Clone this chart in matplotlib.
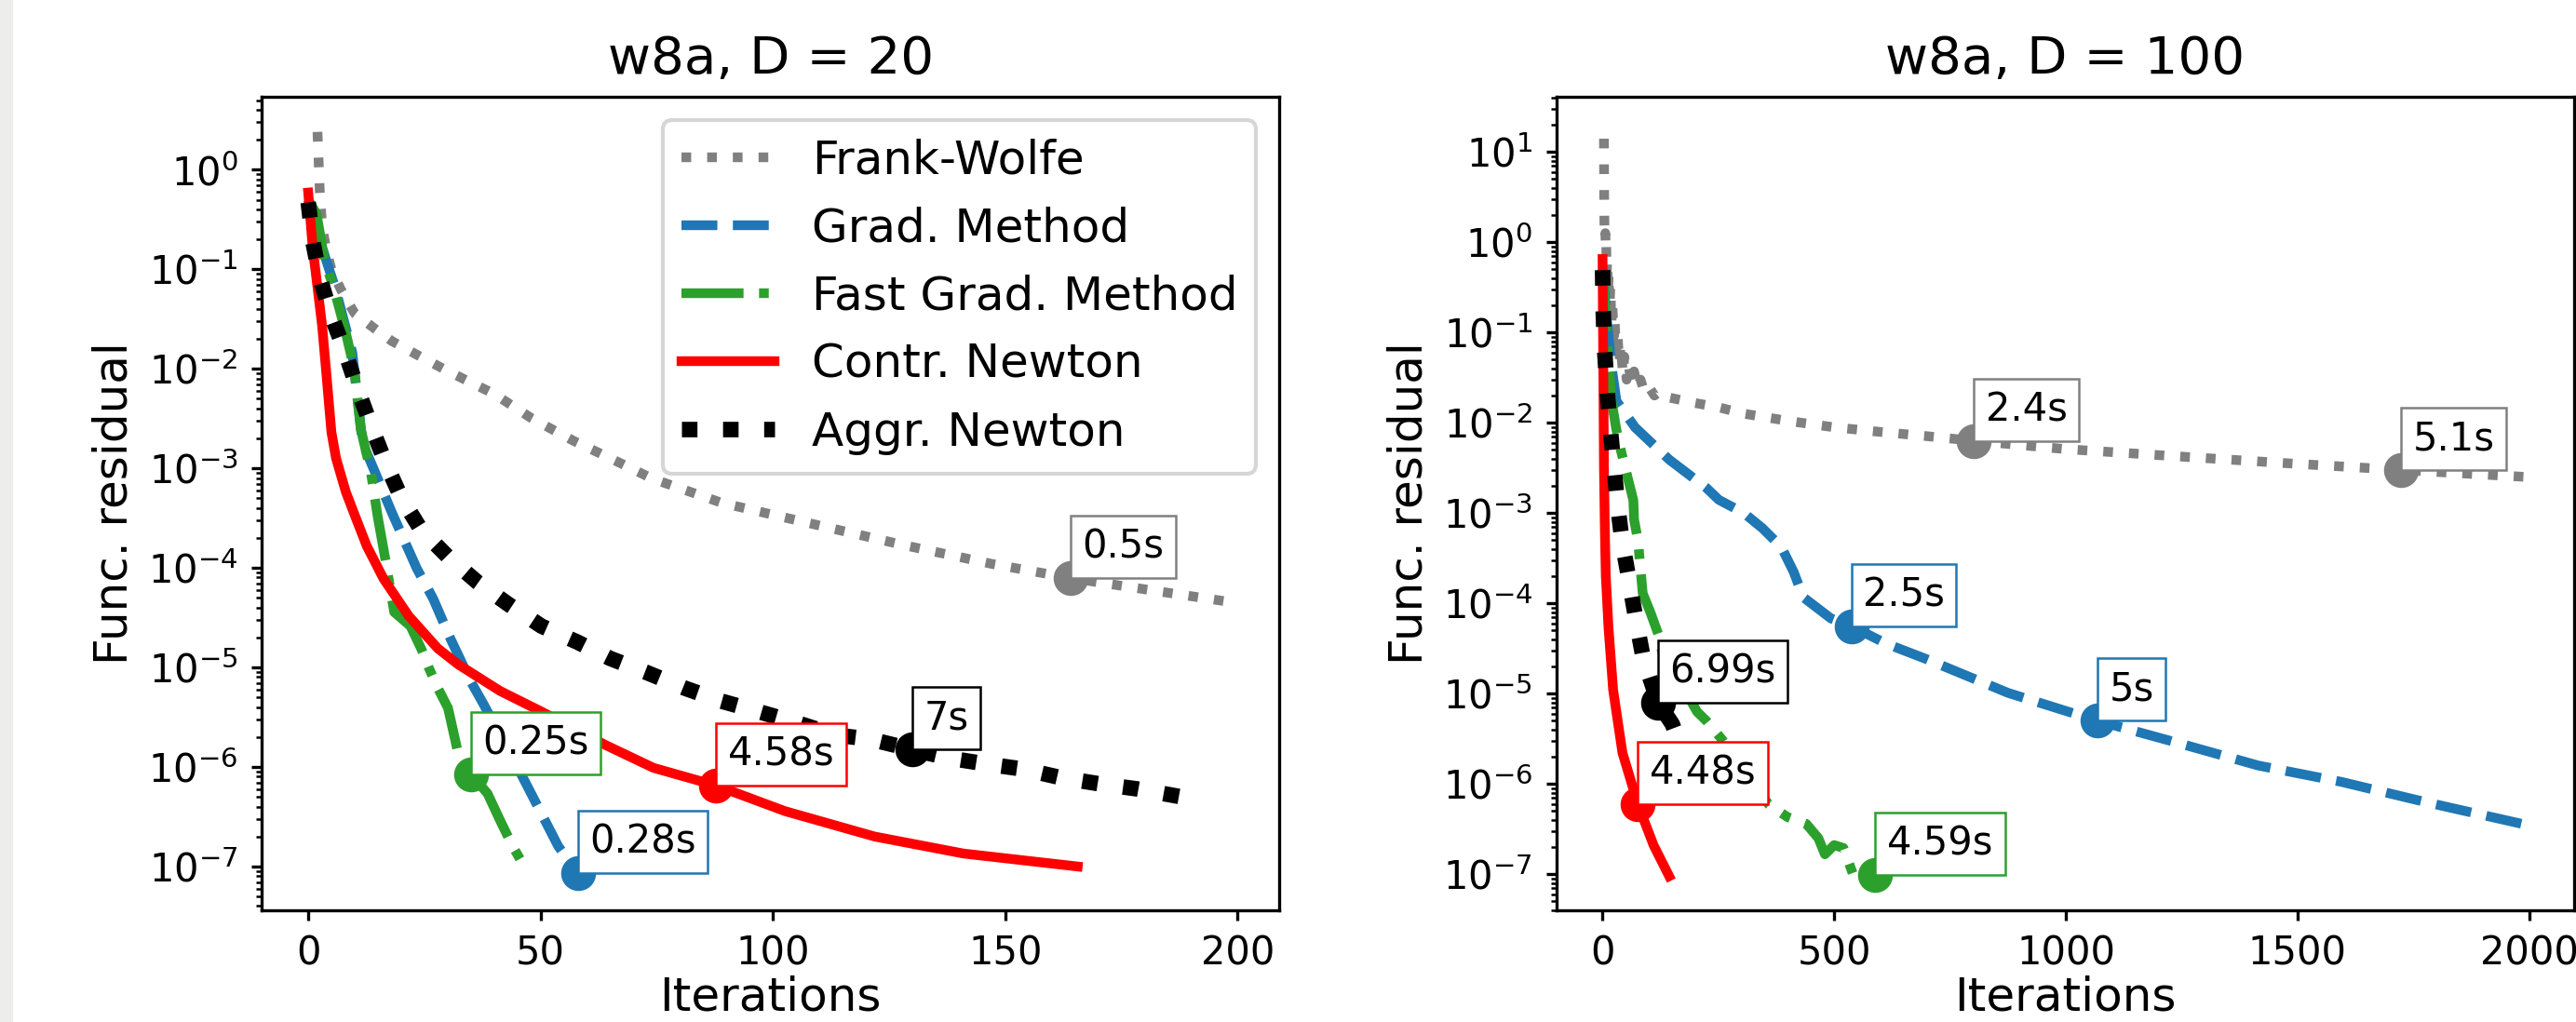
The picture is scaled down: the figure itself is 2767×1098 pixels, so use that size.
import numpy as np
import matplotlib.pyplot as plt
from matplotlib.patches import Rectangle

# ---------- w8a, D = 20 ----------
fw20_x = [2, 2.5, 3, 4, 5, 7, 10, 14, 18, 22, 30, 40, 48, 57, 66, 74, 89, 108, 128, 147, 164, 181, 199]
fw20_y = [2.4, 0.6, 0.27, 0.15, 0.10, 0.063, 0.036, 0.026, 0.019, 0.015, 0.0095, 0.0056, 0.0032,
          0.0019, 0.0012, 7.9e-4, 4.5e-4, 2.8e-4, 1.7e-4, 1.1e-4, 7.9e-5, 6.0e-5, 4.5e-5]

gm20_x = [0, 3.6, 5.9, 9.5, 11.7, 14.4, 18, 23.4, 26.9, 30.6, 35, 37.7, 45.8, 50.2, 53.8, 58]
gm20_y = [0.5, 0.135, 0.063, 0.0145, 0.0018, 9.1e-4, 3.6e-4, 9.8e-5, 4.9e-5, 1.95e-5, 7.2e-6,
          4.3e-6, 8.5e-7, 3.4e-7, 1.6e-7, 8.5e-8]

fgm20_x = [0, 1.8, 3.6, 5.4, 8.1, 9.9, 11.3, 13.5, 14.9, 16.7, 18.5, 22, 24.3, 26, 27.9, 30.1,
           32.3, 35, 38.6, 41.3, 44, 46.5]
fgm20_y = [0.5, 0.36, 0.117, 0.068, 0.023, 0.010, 0.0025, 9.1e-4, 3.4e-4, 1.15e-4, 3.6e-5, 2.6e-5,
           1.55e-5, 9.8e-6, 6.2e-6, 3.9e-6, 1.35e-6, 8.5e-7, 5.4e-7, 2.9e-7, 1.6e-7, 1.0e-7]

cn20_x = [0, 1, 2, 3, 4, 5, 6, 8.1, 9.9, 12.6, 16.2, 21.6, 27.9, 32.3, 41.3, 50.2, 64, 74.3,
          87.8, 102.6, 121.9, 141, 165.6]
cn20_y = [0.59, 0.16, 0.066, 0.027, 0.008, 0.0023, 0.00126, 5.8e-4, 3.5e-4, 1.66e-4, 7.8e-5,
          3.3e-5, 1.55e-5, 1.07e-5, 5.8e-6, 3.6e-6, 1.66e-6, 9.8e-7, 6.5e-7, 3.6e-7, 2.0e-7,
          1.35e-7, 1.0e-7]

an20_x = [0, 1, 2.6, 5, 8, 10.6, 13.5, 16.6, 20, 24.2, 30.1, 36.4, 43.1, 50.2, 57.9, 65, 72.8,
          81, 88.8, 96.9, 105, 113.3, 121, 130, 137.8, 146, 154, 162, 170, 178.6, 188]
an20_y = [0.47, 0.19, 0.079, 0.034, 0.0145, 0.0063, 0.0027, 0.00115, 5.1e-4, 2.45e-4, 1.29e-4,
          7.2e-5, 4.3e-5, 2.6e-5, 1.8e-5, 1.23e-5, 8.9e-6, 6.2e-6, 4.6e-6, 3.6e-6, 2.8e-6,
          2.1e-6, 1.9e-6, 1.5e-6, 1.23e-6, 1.07e-6, 9.5e-7, 7.8e-7, 6.8e-7, 6.0e-7, 5.0e-7]

# time labels: (iteration, residual, text, series index)
ann20_x = [164, 58, 35, 87.8, 130]
ann20_y = [7.9e-5, 8.5e-8, 8.5e-7, 6.5e-7, 1.5e-6]
ann20_txt = ['0.5s', '0.28s', '0.25s', '4.58s', '7s']
ann20_idx = [0, 1, 2, 3, 4]

# ---------- w8a, D = 100 ----------
fw100_x = [3, 3.5, 4, 5, 6, 7, 8, 9, 10, 12, 13, 15, 17, 19, 21, 24, 26, 29, 32, 36, 39, 44, 47,
           52, 56, 62, 68, 75, 82, 90, 100, 112, 122, 144, 198, 251, 305, 399, 500, 601, 700,
           802, 1000, 1255, 1500, 1724, 1999]
fw100_y = [14, 3.2, 1.6, 1.1, 1.26, 0.79, 0.89, 0.45, 0.63, 0.28, 0.45, 0.20, 0.32, 0.126, 0.22,
           0.089, 0.14, 0.063, 0.1, 0.047, 0.071, 0.035, 0.054, 0.030, 0.045, 0.027, 0.037,
           0.024, 0.030, 0.022, 0.025, 0.020, 0.022, 0.019, 0.0166, 0.0148, 0.0126, 0.0105,
           0.0089, 0.0079, 0.0071, 0.0063, 0.0051, 0.0042, 0.0035, 0.0030, 0.0025]

gm100_x = [0, 10, 20, 30, 70, 144, 224, 251, 305, 345, 386, 413, 433, 493, 537, 611, 700, 875,
           1068, 1236, 1415, 1596, 1776, 1996]
gm100_y = [0.5, 0.126, 0.04, 0.0174, 0.0089, 0.0039, 0.0019, 0.0014, 0.0010, 6.8e-4, 4.2e-4,
           2.2e-4, 1.17e-4, 6.8e-5, 5.6e-5, 3.6e-5, 2.4e-5, 1.02e-5, 5.0e-6, 2.9e-6, 1.6e-6,
           1.05e-6, 6.3e-7, 3.5e-7]

fgm100_x = [0, 8, 19.5, 29.6, 39.7, 66.5, 68, 76.6, 86.7, 103.4, 120, 127, 204, 224, 258, 359,
            399, 440, 466, 480, 500, 520, 540, 589]
fgm100_y = [0.5, 0.1, 0.0174, 0.0085, 0.0049, 0.00138, 8.5e-4, 4.9e-4, 1.29e-4, 7.9e-5, 4.6e-5,
            3.1e-5, 6.3e-6, 5.0e-6, 3.1e-6, 5.9e-7, 4.3e-7, 3.6e-7, 2.5e-7, 1.66e-7, 2.1e-7,
            1.95e-7, 1.02e-7, 9.8e-8]

cn100_x = [0, 1, 2, 3, 5, 7, 12.8, 22.8, 43, 76.6, 110, 143.8]
cn100_y = [0.65, 0.1, 0.02, 3.2e-3, 6.3e-4, 2.0e-4, 5.4e-5, 1.1e-5, 2.2e-6, 5.9e-7, 2.1e-7, 9.5e-8]

an100_x = [0, 1.3, 4, 9.4, 16, 24, 32, 42, 56.5, 71, 87, 120, 150.5, 155]
an100_y = [0.49, 0.18, 0.069, 0.025, 0.0093, 0.0035, 0.0013, 4.9e-4, 1.9e-4, 7.1e-5, 2.6e-5,
           7.9e-6, 4.6e-6, 4.0e-6]

ann100_x = [802, 1724, 537, 1068, 589, 76.6, 120]
ann100_y = [6.3e-3, 3.0e-3, 5.6e-5, 5.0e-6, 9.8e-8, 5.9e-7, 7.9e-6]
ann100_txt = ['2.4s', '5.1s', '2.5s', '5s', '4.59s', '4.48s', '6.99s']
ann100_idx = [0, 0, 1, 1, 2, 3, 4]

names = ['Frank-Wolfe', 'Grad. Method', 'Fast Grad. Method', 'Contr. Newton', 'Aggr. Newton']
colors = ['gray', '#1f77b4', '#2ca02c', 'red', 'black']
styles = [':', '--', '-.', '-', ':']
widths = [2.5, 2.5, 2.5, 2.5, 4]

panels = [
    dict(title='w8a, D = 20',
         series=[(fw20_x, fw20_y), (gm20_x, gm20_y), (fgm20_x, fgm20_y), (cn20_x, cn20_y), (an20_x, an20_y)],
         ann=(ann20_x, ann20_y, ann20_txt, ann20_idx),
         xlim=(-10, 209), ylim=(10**-7.44, 10**0.733), xticks=[0, 50, 100, 150, 200]),
    dict(title='w8a, D = 100',
         series=[(fw100_x, fw100_y), (gm100_x, gm100_y), (fgm100_x, fgm100_y), (cn100_x, cn100_y), (an100_x, an100_y)],
         ann=(ann100_x, ann100_y, ann100_txt, ann100_idx),
         xlim=(-100, 2097), ylim=(10**-7.40, 10**1.61), xticks=[0, 500, 1000, 1500, 2000]),
]

fig, axes = plt.subplots(1, 2, figsize=(2767 / 300, 1098 / 300), dpi=300)
fig.subplots_adjust(left=0.1016, right=0.9992, bottom=0.1093, top=0.9053, wspace=0.272)
# light strip at the left edge of the screenshot
fig.patches.append(Rectangle((0, 0), 12 / 2767, 1, transform=fig.transFigure,
                             color='#ededeb', zorder=-1))

for ax, p in zip(axes, panels):
    for (xs, ys), name, c, ls, lw in zip(p['series'], names, colors, styles, widths):
        ax.plot(xs, ys, ls=ls, color=c, lw=lw, label=name)
    for x, y, t, i in zip(*p['ann']):
        ax.plot(x, y, 'o', color=colors[i], ms=8, zorder=4)
        ax.annotate(t, (x, y), xytext=(3, 3), textcoords='offset points',
                    ha='left', va='bottom', fontsize=10, zorder=5,
                    bbox=dict(boxstyle='square,pad=0.3', fc='white', ec=colors[i], lw=0.6))
    ax.set_yscale('log')
    ax.set_xlim(p['xlim'])
    ax.set_ylim(p['ylim'])
    ax.set_xticks(p['xticks'])
    ax.tick_params(which='major', labelsize=10, length=2.6)
    ax.tick_params(which='minor', length=1.4)
    ax.set_title(p['title'], fontsize=13.5)
    ax.set_xlabel('Iterations', fontsize=12, labelpad=0.5)
    ax.set_ylabel('Func. residual', fontsize=12, labelpad=3)

axes[0].legend(loc='upper right', fontsize=12)

fig.savefig('out.png', dpi=300)
